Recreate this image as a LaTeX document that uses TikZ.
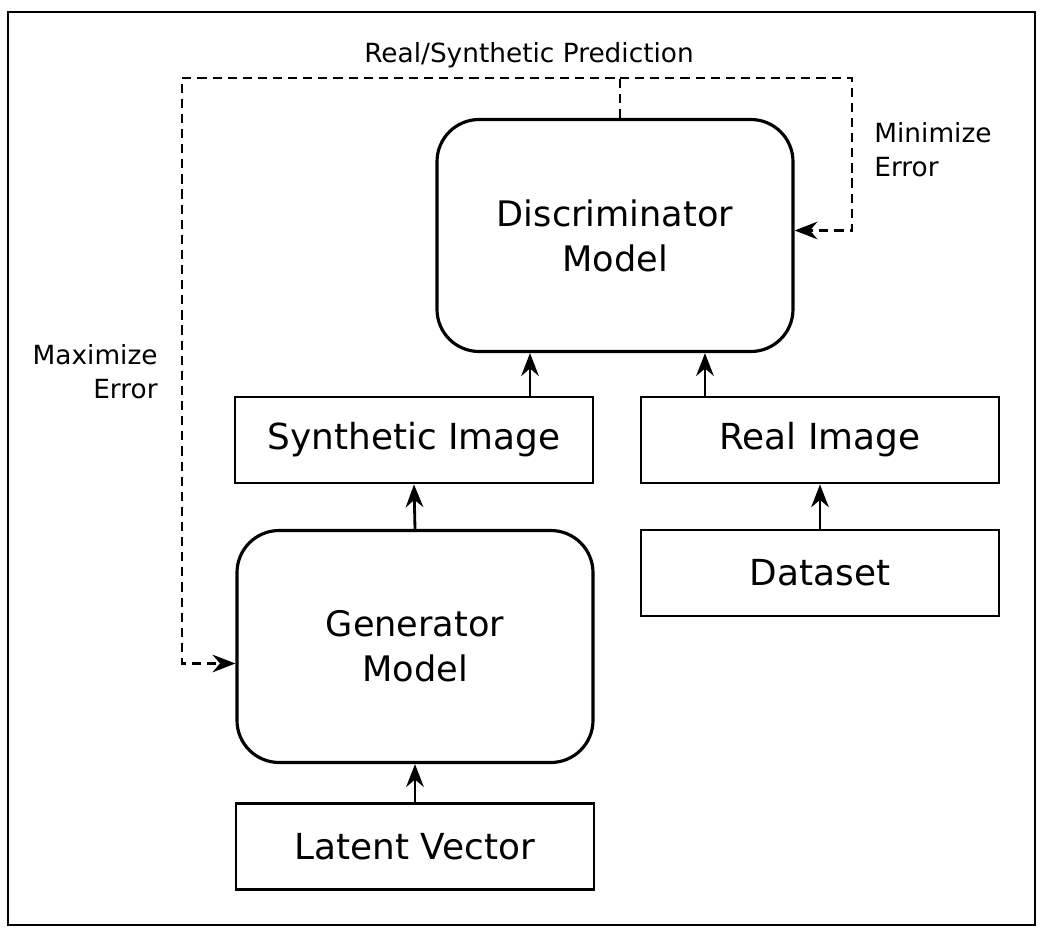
\documentclass[tikz,border=0pt]{standalone}
\usepackage{fontspec}
\setmainfont{DejaVu Sans}
\usetikzlibrary{arrows.meta,positioning,calc}

\begin{document}
\begin{tikzpicture}[
  model/.style={draw,line width=0.9pt,rounded corners=12pt,minimum width=3.56cm,minimum height=2.32cm,
    align=center,font=\fontsize{10}{12.8}\selectfont},
  data/.style={draw,line width=0.8pt,minimum width=3.58cm,minimum height=0.86cm,font=\fontsize{10.2}{12}\selectfont},
  feed/.style={-{Stealth[length=6.5pt,width=5pt]},line width=0.8pt},
  loss/.style={-{Stealth[length=6.5pt,width=5pt]},line width=0.75pt,dash pattern=on 2.6pt off 1.7pt},
  lbl/.style={font=\fontsize{7.5}{9.6}\selectfont}
]
  \useasboundingbox (0,0) rectangle (10.5,-9.38);
  \draw[line width=0.7pt] (0.08,-0.12) rectangle (10.35,-9.25);
  % Discriminator side
  \node[model] (disc) at (6.15,-2.355) {Discriminator\\Model};
  \node[data] (synth) at (4.14,-4.40) {Synthetic Image};
  \node[data] (real) at (8.20,-4.40) {Real Image};
  \node[data] (dataset) at (8.20,-5.73) {Dataset};
  % Generator side
  \node[model] (gen) at (4.15,-6.465) {Generator\\Model};
  \node[data] (latent) at (4.15,-8.465) {Latent Vector};
  % Solid arrows
  \draw[feed] ([xshift=1.16cm]synth.north) -- ([xshift=1.16cm]synth.north |- disc.south);
  \draw[feed] ([xshift=-1.15cm]real.north) -- ([xshift=-1.15cm]real.north |- disc.south);
  \draw[feed] (dataset.north) -- (real.south);
  \draw[feed] (gen.north) -- (synth.south);
  \draw[feed] (latent.north) -- (gen.south);
  % Feedback loop
  \coordinate (topl) at (1.82,-0.78);
  \coordinate (topr) at (8.52,-0.78);
  \draw[loss] ([xshift=0.05cm]disc.north) -- ([xshift=0.05cm]disc.north |- topl) -- (topl)
    |- ([yshift=-0.17cm]gen.west);
  \draw[loss] ([xshift=0.05cm]disc.north |- topr) -- (topr) |- ([yshift=0.05cm]disc.east);
  \node[lbl] (pred) at (5.29,-0.55) {Real/Synthetic Prediction};
  \node[lbl,align=left,anchor=west] (mini) at (8.62,-1.50) {Minimize\\Error};
  \node[lbl,align=right,anchor=east] (maxi) at (1.70,-3.72) {Maximize\\Error};
\end{tikzpicture}
\end{document}
